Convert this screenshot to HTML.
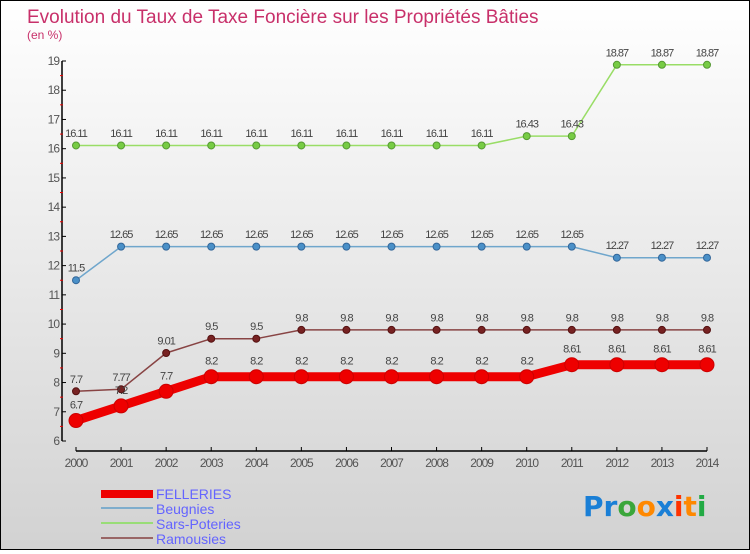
<!DOCTYPE html>
<html><head><meta charset="utf-8">
<style>
html,body{margin:0;padding:0;}
body{width:750px;height:550px;overflow:hidden;font-family:"Liberation Sans",sans-serif;}
#wrap{position:relative;width:748px;height:548px;border:1px solid #000;background:linear-gradient(#ffffff,#d2d2d2);}
</style></head>
<body>
<div id="wrap">
<svg id="chart" width="748" height="548" xmlns="http://www.w3.org/2000/svg">
<text x="26" y="22" font-size="19" fill="#c8306a">Evolution du Taux de Taxe Foncière sur les Propriétés Bâties</text>
<text x="26" y="38" font-size="12" fill="#c8306a">(en %)</text>
<g id="axes"></g>
<g id="series"></g>
<g id="legend">
<rect x="100" y="489" width="52" height="8" fill="#ee0000"/>
<text x="155" y="498" font-size="14" fill="#6464ff">FELLERIES</text>
<rect x="100" y="506" width="52" height="2" fill="#7fadcc"/>
<text x="155" y="513" font-size="14" fill="#6464ff">Beugnies</text>
<rect x="100" y="521" width="52" height="2" fill="#99dd77"/>
<text x="155" y="528" font-size="14" fill="#6464ff">Sars-Poteries</text>
<rect x="100" y="536" width="52" height="2" fill="#996666"/>
<text x="155" y="543" font-size="14" fill="#6464ff">Ramousies</text>
</g>
<g font-size="28" font-weight="bold" font-family="'DejaVu Sans',sans-serif">
<text x="582" y="515"><tspan fill="#1a7fd6">Pr</tspan><tspan fill="#3aa63a">o</tspan><tspan fill="#ff8800">o</tspan><tspan fill="#1a7fd6">x</tspan><tspan fill="#ff3300">i</tspan><tspan fill="#ff8800">t</tspan><tspan fill="#22aa44">i</tspan></text>
</g>
</svg>
</div>
<script>
const years = [2000,2001,2002,2003,2004,2005,2006,2007,2008,2009,2010,2011,2012,2013,2014];
const yTicks = [6,7,8,9,10,11,12,13,14,15,16,17,18,19];
const fellaries = [6.7,7.2,7.7,8.2,8.2,8.2,8.2,8.2,8.2,8.2,8.2,8.61,8.61,8.61,8.61];
const beugnies = [11.5,12.65,12.65,12.65,12.65,12.65,12.65,12.65,12.65,12.65,12.65,12.65,12.27,12.27,12.27];
const sarsPoteries = [16.11,16.11,16.11,16.11,16.11,16.11,16.11,16.11,16.11,16.11,16.43,16.43,18.87,18.87,18.87];
const ramousies = [7.7,7.77,9.01,9.5,9.5,9.8,9.8,9.8,9.8,9.8,9.8,9.8,9.8,9.8,9.8];

const NS="http://www.w3.org/2000/svg";
const x0=75,x1=706,yMin=6,yMax=19,yB=440,yT=60;
function xs(i){return x0+(x1-x0)*i/(years.length-1);}
function ys(v){return yB-(v-yMin)*(yB-yT)/(yMax-yMin);}
function mk(tag,attrs,parent){const e=document.createElementNS(NS,tag);for(const k in attrs)e.setAttribute(k,attrs[k]);parent.appendChild(e);return e;}

const axes=document.getElementById('axes');
let l=mk('line',{x1:61,y1:yT,x2:61,y2:yB,stroke:'#000','stroke-width':1.5},axes);


yTicks.forEach(v=>{
  const t=mk('line',{x1:61,x2:65,y1:ys(v),y2:ys(v),stroke:'#000'},axes);
  
  
  if(v<yMax){const m=mk('line',{x1:59,x2:62,y1:ys(v+0.5),y2:ys(v+0.5),stroke:'#e00'},axes);
  
  }
  const tx=mk('text',{x:58,y:ys(v)+4,'font-size':12,fill:'#555','text-anchor':'end','letter-spacing':'-1'},axes);
  tx.textContent=v;
  
  
});
l=mk('line',{x1:x0,y1:450,x2:x1,y2:450,stroke:'#000','stroke-width':1.5},axes);


years.forEach((y,i)=>{
  const t=mk('line',{x1:xs(i),x2:xs(i),y1:446,y2:450,stroke:'#000'},axes);
  
  
  const tx=mk('text',{x:xs(i),y:466,'font-size':12,fill:'#555','text-anchor':'middle','letter-spacing':'-1'},axes);
  tx.textContent=y;
  
  
});

const sg=document.getElementById('series');
function drawSeries(vals,name,color,w,r,dot,dotStroke){
  const g=mk('g',{},sg);
  
  
  const pts=vals.map((v,i)=>xs(i)+','+ys(v)).join(' ');
  const p=mk('polyline',{points:pts,fill:'none',stroke:color,'stroke-width':w,'stroke-linejoin':'round'},g);
  
  
  vals.forEach((v,i)=>{
    const c=mk('circle',{cx:xs(i),cy:ys(v),r:r,fill:dot,stroke:dotStroke,'stroke-width':1},g);
    
    
    const t=mk('text',{x:xs(i),y:ys(v)-(r+5),'font-size':11,fill:'#444','text-anchor':'middle','letter-spacing':'-1'},g);
    t.textContent=v;
    
    
  });
}
drawSeries(sarsPoteries,'sars-poteries','#99dd66',1.5,3.5,'#77cc44','#559933');
drawSeries(beugnies,'beugnies','#6fa6cc',1.5,3.5,'#4a90c8','#336699');
drawSeries(ramousies,'ramousies','#884444',1.5,3.5,'#772222','#551111');
drawSeries(fellaries,'fellaries','#ee0000',9,7,'#ee0000','#cc0000');
</script>
</body></html>
